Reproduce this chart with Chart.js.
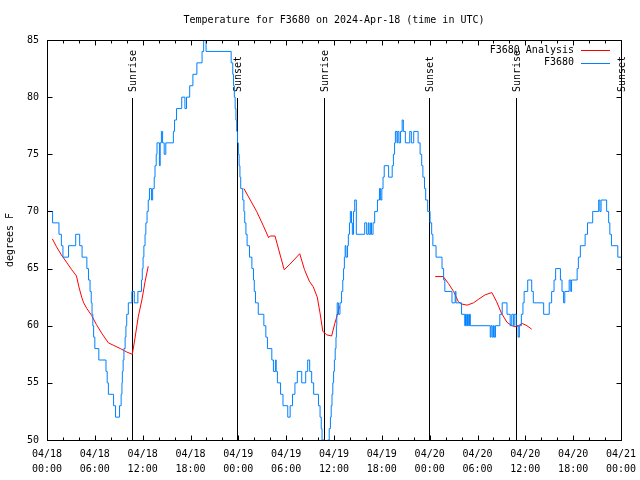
<!DOCTYPE html>
<html>
<head>
<meta charset="utf-8">
<script src="https://cdn.jsdelivr.net/npm/chart.js@4.4.1/dist/chart.umd.min.js"></script>
<style>
  body { margin: 0; background: #fff; }
  #wrap { width: 640px; height: 480px; }
</style>
</head>
<body>
<div id="wrap"><canvas id="chart" width="640" height="480"></canvas></div>
<script>
// Hours since 04/18 00:00 UTC
const obsHours = [0, 0.7, 1.5, 1.8, 2.0, 2.7, 3.6, 4.1, 4.4, 5.0, 5.2, 5.4, 5.55, 5.65, 5.75, 5.85, 6.0, 6.5, 7.4, 7.55, 7.7, 8.35, 8.6, 9.1, 9.3, 9.4, 9.45, 9.55, 9.65, 9.8, 9.9, 10.0, 10.2, 10.65, 10.95, 11.4, 11.85, 11.95, 12.05, 12.15, 12.3, 12.4, 12.55, 12.7, 12.85, 13.1, 13.25, 13.45, 13.55, 13.7, 13.8, 14.1, 14.2, 14.35, 14.5, 14.7, 14.9, 15.85, 16.0, 16.25, 16.9, 17.3, 17.5, 17.9, 18.3, 18.8, 19.45, 19.65, 19.8, 19.95,
  23.1, 23.3, 23.4, 23.5, 23.6, 23.7, 23.8, 23.9, 24.0, 24.1, 24.2, 24.3, 24.55, 24.7, 24.8, 24.95, 25.1, 25.4, 25.7, 25.9, 26.0, 26.15, 26.5, 27.2, 27.45, 27.65, 28.2, 28.4, 28.65, 28.75, 28.9, 29.3, 29.6, 30.2, 30.5, 30.8, 31.1, 31.4, 31.95, 32.45, 32.7, 32.95, 33.2, 33.45, 34.05, 34.25, 34.4, 34.5, 34.8, 35.2, 35.4, 35.55, 35.65, 35.75, 35.85, 35.95, 36.05, 36.15, 36.25, 36.3, 36.35, 36.4, 36.55, 36.75, 36.95, 37.1, 37.2, 37.3, 37.4, 37.5, 37.7, 37.8, 37.95, 38.05, 38.2, 38.3, 38.45, 38.6, 38.8, 39.85, 40.1, 40.3, 40.4, 40.6, 40.7, 40.9, 41.1, 41.45, 41.7, 41.85, 42.0, 42.15, 42.3, 42.85, 43.3, 43.45, 43.6, 43.7, 43.9, 44.0, 44.15, 44.35, 44.55, 44.7, 44.95, 45.5, 45.7, 46.0, 46.55, 46.8, 47.0, 47.15, 47.35, 47.5, 47.75,
  48.05, 48.25, 48.4, 48.8, 49.55, 49.75, 49.9, 50.8, 51.2, 51.3, 52.0, 52.4, 52.5, 52.6, 52.75, 52.85, 53.0, 53.1, 55.6, 55.7, 55.85, 56.0, 56.1, 56.25, 56.8, 57.1, 57.7, 58.1, 58.3, 58.5, 58.6, 58.85, 59.1, 59.25, 59.5, 59.7, 59.85, 60.3, 60.8, 61.0, 62.3, 63.0, 63.3, 63.6, 63.8, 64.4, 64.6, 64.8, 64.95, 65.5, 65.7, 65.8, 66.5, 66.65, 66.9, 67.5, 67.8, 68.45, 69.2, 69.35, 69.5, 70.2, 70.45, 70.6, 70.8, 71.6, 72];
const obsTemps = [70, 69, 68, 67, 66, 67, 68, 67, 66, 65, 64, 63, 62, 61, 60, 59, 58, 57, 56, 55, 54, 53, 52, 53, 54, 55, 56, 57, 58, 59, 60, 61, 62, 63, 62, 63, 64, 65, 66, 67, 68, 69, 70, 71, 72, 71, 72, 73, 74, 75, 76, 74, 76, 77, 76, 75, 76, 77, 78, 79, 80, 79, 80, 81, 82, 83, 84, 85, 86, 84,
  83, 82, 81, 80, 79, 78, 77, 76, 75, 74, 73, 72, 71, 70, 69, 68, 67, 66, 65, 64, 63, 62, 61, 60, 59, 58, 57, 56, 57, 56, 55, 54, 53, 52, 53, 54, 55, 56, 55, 56, 57, 56, 55, 54, 53, 52, 51, 50, 49, 50, 51, 52, 53, 54, 55, 56, 57, 58, 59, 60, 61, 62, 61, 62, 63, 64, 65, 66, 67, 66, 67, 68, 69, 70, 69, 68, 70, 71, 68, 69, 68, 69, 68, 69, 68, 69, 70, 71, 72, 71, 72, 73, 74, 73, 74, 75, 76, 77, 76, 77, 76, 77, 78, 77, 76, 77, 76, 77, 76, 75, 74, 73, 72, 71, 70,
  69, 68, 67, 66, 65, 64, 63, 62, 63, 62, 61, 60, 61, 60, 61, 60, 61, 60, 59, 60, 59, 60, 59, 60, 61, 62, 61, 60, 61, 60, 61, 60, 59, 60, 61, 62, 63, 64, 63, 62, 61, 62, 63, 64, 65, 64, 63, 62, 63, 64, 63, 64, 65, 66, 67, 68, 69, 70, 71, 70, 71, 70, 69, 68, 67, 66, 66];

// Analysis series (null = gap between runs)
const anaHours = [0.67, 1.2, 1.8, 2.5, 3.1, 3.7, 4.0, 4.35, 4.6, 5.0, 5.6, 6.2, 6.9, 7.7, 8.3, 9.2, 10.0, 10.7, 11.0, 11.45, 11.9, 12.3, 12.7, 18,
  24.7, 25.5, 26.3, 27.1, 27.8, 28.0, 28.6, 29.75, 30.5, 31.7, 32.3, 32.9, 33.4, 33.9, 34.25, 34.6, 35.1, 35.7, 36.1, 36.4, 36.7, 42,
  48.7, 49.7, 50.35, 51.0, 51.6, 52.0, 52.7, 53.5, 54.1, 54.95, 55.8, 56.4, 57.0, 57.7, 58.3, 58.9, 59.6, 60.2, 60.8];
const anaTemps = [67.6, 66.9, 66.2, 65.5, 64.9, 64.35, 63.4, 62.5, 62.0, 61.5, 60.9, 60.1, 59.3, 58.5, 58.3, 58.0, 57.7, 57.5, 58.75, 60.8, 62.25, 63.85, 65.2, null,
  72, 71, 70, 68.8, 67.7, 67.85, 67.85, 64.9, 65.4, 66.3, 64.9, 63.9, 63.4, 62.5, 61.1, 59.5, 59.2, 59.1, 60.2, 60.9, 61.7, null,
  64.3, 64.3, 63.7, 63.0, 62.1, 61.9, 61.8, 62.0, 62.3, 62.7, 62.9, 62.1, 61.1, 60.3, 60.0, 59.9, 60.2, 60.0, 59.7];

const eventHours = [10.7, 23.88, 34.8, 47.97, 58.8, 72];
const eventNames = ['Sunrise', 'Sunset', 'Sunrise', 'Sunset', 'Sunrise', 'Sunset'];

const dayLabels = ['04/18', '04/19', '04/20', '04/21'];
const seriesNames = ['F3680 Analysis', 'F3680'];
const seriesColors = ['#ff0000', '#0080ff'];
const titleText = 'Temperature for F3680 on 2024-Apr-18 (time in UTC)';

const FONT = '"DejaVu Sans Mono", "Liberation Mono", monospace';

function pad2(n) { return (n < 10 ? '0' : '') + n; }

const sunPlugin = {
  id: 'sun',
  beforeDatasetsDraw(chart) {
    const { ctx, chartArea, scales } = chart;
    ctx.save();
    ctx.strokeStyle = '#000';
    ctx.lineWidth = 1;
    ctx.fillStyle = '#000';
    ctx.font = '10px ' + FONT;
    eventHours.forEach((h, i) => {
      const x = Math.round(scales.x.getPixelForValue(h)) + 0.5;
      ctx.beginPath();
      ctx.moveTo(x, chartArea.bottom);
      ctx.lineTo(x, 98);
      ctx.stroke();
      ctx.save();
      ctx.translate(x + 1, 92);
      ctx.rotate(-Math.PI / 2);
      ctx.textAlign = 'left';
      ctx.textBaseline = 'middle';
      ctx.fillText(eventNames[i], 0, 0);
      ctx.restore();
    });
    ctx.restore();
  }
};

const framePlugin = {
  id: 'frame',
  afterDraw(chart) {
    const { ctx, chartArea: a, scales } = chart;
    ctx.save();
    ctx.strokeStyle = '#000';
    ctx.lineWidth = 1;
    const L = Math.round(a.left) + 0.5, R = Math.round(a.right) + 0.5;
    const T = Math.round(a.top) + 0.5, B = Math.round(a.bottom) + 0.5;
    ctx.strokeRect(L, T, R - L, B - T);
    ctx.beginPath();
    for (let h = 0; h <= 72; h += 2) {
      const x = Math.round(scales.x.getPixelForValue(h)) + 0.5;
      const len = h % 6 === 0 ? 5 : 3;
      ctx.moveTo(x, B); ctx.lineTo(x, B - len);
      ctx.moveTo(x, T); ctx.lineTo(x, T + len);
    }
    for (let v = 50; v <= 85; v += 5) {
      const y = Math.round(scales.y.getPixelForValue(v)) + 0.5;
      ctx.moveTo(L, y); ctx.lineTo(L + 5, y);
      ctx.moveTo(R, y); ctx.lineTo(R - 5, y);
    }
    ctx.stroke();

    ctx.fillStyle = '#000';
    ctx.font = '10px ' + FONT;
    ctx.textBaseline = 'middle';

    // title centred over the plot
    ctx.textAlign = 'center';
    ctx.fillText(titleText, (a.left + a.right) / 2, 20);

    // key, top right inside the plot
    ctx.textAlign = 'right';
    seriesNames.forEach((name, i) => {
      const y = 50 + i * 12.5;
      ctx.fillText(name, 574, y);
      ctx.strokeStyle = seriesColors[i];
      ctx.beginPath();
      ctx.moveTo(581, Math.round(y) + 0.5);
      ctx.lineTo(610, Math.round(y) + 0.5);
      ctx.stroke();
    });
    ctx.restore();
  }
};

new Chart(document.getElementById('chart'), {
  type: 'line',
  data: {
    datasets: [
      {
        label: seriesNames[1],
        data: obsHours.map((h, i) => ({ x: h, y: obsTemps[i] })),
        borderColor: seriesColors[1],
        borderWidth: 1,
        pointRadius: 0,
        stepped: 'before',
        fill: false
      },
      {
        label: seriesNames[0],
        data: anaHours.map((h, i) => ({ x: h, y: anaTemps[i] })),
        borderColor: seriesColors[0],
        borderWidth: 1,
        pointRadius: 0,
        spanGaps: false,
        fill: false
      }
    ]
  },
  options: {
    responsive: false,
    animation: false,
    devicePixelRatio: 1,
    layout: { padding: { left: 0, right: 19, top: 40, bottom: 0 } },
    plugins: {
      legend: { display: false },
      tooltip: { enabled: false },
      title: { display: false }
    },
    scales: {
      x: {
        type: 'linear',
        min: 0,
        max: 72,
        grid: { display: false, drawTicks: false },
        border: { display: false },
        ticks: {
          stepSize: 6,
          padding: 7,
          color: '#000',
          maxRotation: 0,
          font: { family: FONT, size: 10, lineHeight: 1.5 },
          callback: (v) => [dayLabels[Math.floor(v / 24)], pad2(v % 24) + ':00']
        },
        afterFit: (s) => { s.height = 40; s.paddingRight = 0; }
      },
      y: {
        min: 50,
        max: 85,
        grid: { display: false, drawTicks: false },
        border: { display: false },
        ticks: {
          stepSize: 5,
          padding: 8,
          color: '#000',
          font: { family: FONT, size: 10 }
        },
        title: {
          display: true,
          text: 'degrees F',
          color: '#000',
          font: { family: FONT, size: 10 },
          padding: { top: 4, bottom: 4 }
        },
        afterFit: (s) => { s.width = 47; }
      }
    }
  },
  plugins: [sunPlugin, framePlugin]
});
</script>
</body>
</html>
